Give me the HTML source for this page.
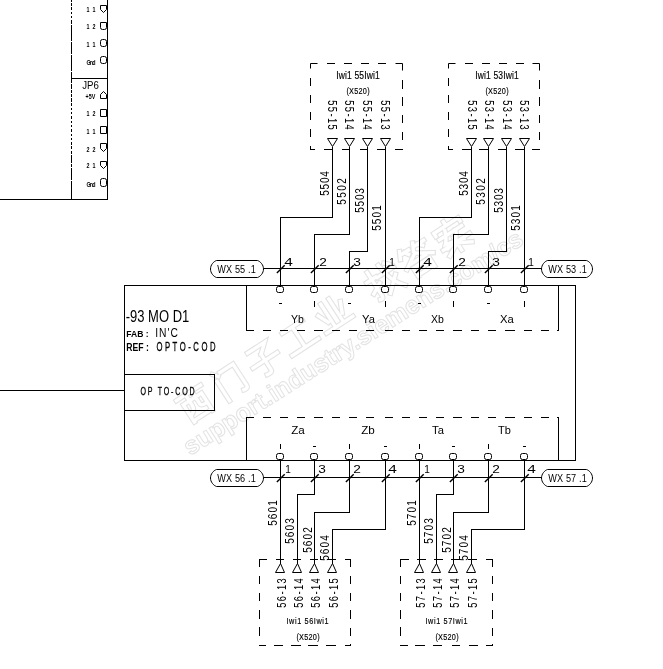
<!DOCTYPE html>
<html><head><meta charset="utf-8"><style>
html,body{margin:0;padding:0;background:#fff;width:663px;height:669px;overflow:hidden}
svg{display:block;will-change:transform}
text{font-family:"Liberation Sans", sans-serif;fill:#000}
</style></head><body>
<svg width="663" height="669" viewBox="0 0 663 669">
<rect width="663" height="669" fill="#fff"/>
<g fill="none" stroke="#e3e3e3" stroke-width="4.6" stroke-linecap="square" stroke-linejoin="miter"><path transform="translate(195,403) rotate(-33) translate(0,0) scale(1.2) translate(-15,-15)" d="M3,5 H27 M6,11 V28 M6,11 H24 V28 M6,27 H24 M12,5 V15 Q12,20 7,22 M18,5 V18 Q18,20 23,20"/><path transform="translate(195,403) rotate(-33) translate(41,0) scale(1.2) translate(-15,-15)" d="M6,3 L9,7 M6,10 V29 M12,5 H25 V26 Q25,29 21,28"/><path transform="translate(195,403) rotate(-33) translate(82,0) scale(1.2) translate(-15,-15)" d="M6,4 H23 L15,11 M15,11 V26 Q15,29 10,28 M3,17 H27"/><path transform="translate(195,403) rotate(-33) translate(123,0) scale(1.2) translate(-15,-15)" d="M5,6 H25 M15,6 V25 M2,26 H28"/><path transform="translate(195,403) rotate(-33) translate(164,0) scale(1.2) translate(-15,-15)" d="M11,3 V25 M19,3 V25 M4,10 L8,19 M26,10 L22,19 M2,26 H28"/><path transform="translate(195,403) rotate(-33) translate(225,0) scale(1.2) translate(-15,-15)" d="M2,9 H11 M7,2 V25 Q7,28 4,27 M2,20 L11,15 M12,10 H28 M18,2 Q19,18 28,28 M23,3 L26,6 M26,16 L14,27"/><path transform="translate(195,403) rotate(-33) translate(266,0) scale(1.2) translate(-15,-15)" d="M5,2 L2,8 M4,5 H12 M8,5 L10,8 M18,2 L15,8 M17,5 H27 M21,5 L24,8 M15,10 L2,18 M15,10 L28,18 M8,16 H22 M7,20 V28 M7,20 H23 V28 M7,27 H23"/><path transform="translate(195,403) rotate(-33) translate(307,0) scale(1.2) translate(-15,-15)" d="M15,1 V4 M3,8 V5 H27 V8 M4,12 H26 M12,8 Q10,14 6,18 Q16,20 22,22 M20,12 Q18,20 6,22 M2,21 H28 M15,17 V29 M15,22 L4,28 M15,22 L26,28"/></g>
<g fill="none" stroke="#fff" stroke-width="2.8" stroke-linecap="square" stroke-linejoin="miter"><path transform="translate(195,403) rotate(-33) translate(0,0) scale(1.2) translate(-15,-15)" d="M3,5 H27 M6,11 V28 M6,11 H24 V28 M6,27 H24 M12,5 V15 Q12,20 7,22 M18,5 V18 Q18,20 23,20"/><path transform="translate(195,403) rotate(-33) translate(41,0) scale(1.2) translate(-15,-15)" d="M6,3 L9,7 M6,10 V29 M12,5 H25 V26 Q25,29 21,28"/><path transform="translate(195,403) rotate(-33) translate(82,0) scale(1.2) translate(-15,-15)" d="M6,4 H23 L15,11 M15,11 V26 Q15,29 10,28 M3,17 H27"/><path transform="translate(195,403) rotate(-33) translate(123,0) scale(1.2) translate(-15,-15)" d="M5,6 H25 M15,6 V25 M2,26 H28"/><path transform="translate(195,403) rotate(-33) translate(164,0) scale(1.2) translate(-15,-15)" d="M11,3 V25 M19,3 V25 M4,10 L8,19 M26,10 L22,19 M2,26 H28"/><path transform="translate(195,403) rotate(-33) translate(225,0) scale(1.2) translate(-15,-15)" d="M2,9 H11 M7,2 V25 Q7,28 4,27 M2,20 L11,15 M12,10 H28 M18,2 Q19,18 28,28 M23,3 L26,6 M26,16 L14,27"/><path transform="translate(195,403) rotate(-33) translate(266,0) scale(1.2) translate(-15,-15)" d="M5,2 L2,8 M4,5 H12 M8,5 L10,8 M18,2 L15,8 M17,5 H27 M21,5 L24,8 M15,10 L2,18 M15,10 L28,18 M8,16 H22 M7,20 V28 M7,20 H23 V28 M7,27 H23"/><path transform="translate(195,403) rotate(-33) translate(307,0) scale(1.2) translate(-15,-15)" d="M15,1 V4 M3,8 V5 H27 V8 M4,12 H26 M12,8 Q10,14 6,18 Q16,20 22,22 M20,12 Q18,20 6,22 M2,21 H28 M15,17 V29 M15,22 L4,28 M15,22 L26,28"/></g>
<text transform="translate(190,456) rotate(-32.4)" x="0" y="0" font-size="25" font-weight="bold" fill="none" stroke="#e3e3e3" stroke-width="1" style="fill:none">support.industry.siemens.com/cs</text>
<rect x="107" y="0" width="1" height="200"/>
<rect x="71" y="78" width="37" height="1"/>
<rect x="0" y="199" width="108" height="1"/>
<rect x="71" y="0" width="1" height="2"/>
<rect x="71" y="3" width="1" height="3"/>
<rect x="71" y="7" width="1" height="3"/>
<rect x="71" y="12" width="1" height="2"/>
<rect x="71" y="16" width="1" height="2"/>
<rect x="71" y="20" width="1" height="4"/>
<rect x="71" y="25" width="1" height="13"/>
<rect x="71" y="38" width="1" height="3"/>
<rect x="71" y="42" width="1" height="12"/>
<rect x="71" y="55" width="1" height="12"/>
<rect x="71" y="67" width="1" height="4"/>
<rect x="71" y="72" width="1" height="8"/>
<rect x="71" y="80" width="1" height="3"/>
<rect x="71" y="84" width="1" height="5"/>
<rect x="71" y="90" width="1" height="3"/>
<rect x="71" y="94" width="1" height="3"/>
<rect x="71" y="98" width="1" height="4"/>
<rect x="71" y="103" width="1" height="3"/>
<rect x="71" y="108" width="1" height="2"/>
<rect x="71" y="112" width="1" height="2"/>
<rect x="71" y="116" width="1" height="3"/>
<rect x="71" y="121" width="1" height="2"/>
<rect x="71" y="125" width="1" height="2"/>
<rect x="71" y="129" width="1" height="3"/>
<rect x="71" y="134" width="1" height="2"/>
<rect x="71" y="138" width="1" height="2"/>
<rect x="71" y="142" width="1" height="3"/>
<rect x="71" y="146" width="1" height="3"/>
<rect x="71" y="151" width="1" height="3"/>
<rect x="71" y="155" width="1" height="8"/>
<rect x="71" y="164" width="1" height="3"/>
<rect x="71" y="168" width="1" height="12"/>
<rect x="71" y="181" width="1" height="13"/>
<rect x="71" y="194" width="1" height="6"/>
<text x="82.2" y="89" font-size="10" font-weight="normal" textLength="16.6" lengthAdjust="spacingAndGlyphs" >JP6</text>
<path d="M100.5,5.5 H106.5 V9.5 L103.5,12.5 L100.5,9.5 Z" fill="none" stroke="#000"/>
<text transform="translate(86.57,12) scale(0.75,1)" x="0" y="0" font-size="7.14" font-weight="bold" textLength="11.81" lengthAdjust="spacing" >1 1</text>
<path d="M100.5,22.5 H106.5 V27.5 Q106.5,29.5 104.5,29.5 H102.5 Q100.5,29.5 100.5,27.5 Z" fill="none" stroke="#000"/>
<text transform="translate(86.57,29) scale(0.75,1)" x="0" y="0" font-size="7.14" font-weight="bold" textLength="11.81" lengthAdjust="spacing" >1 2</text>
<path d="M102.5,39.5 H104.5 Q106.5,39.5 106.5,41.5 V44.5 Q106.5,46.5 104.5,46.5 H102.5 Q100.5,46.5 100.5,44.5 V41.5 Q100.5,39.5 102.5,39.5 Z" fill="none" stroke="#000"/>
<text transform="translate(86.57,47) scale(0.75,1)" x="0" y="0" font-size="7.14" font-weight="bold" textLength="11.81" lengthAdjust="spacing" >1 1</text>
<path d="M102.5,56.5 H104.5 Q106.5,56.5 106.5,58.5 V61.5 Q106.5,63.5 104.5,63.5 H102.5 Q100.5,63.5 100.5,61.5 V58.5 Q100.5,56.5 102.5,56.5 Z" fill="none" stroke="#000"/>
<text transform="translate(86.57,65) scale(0.75,1)" x="0" y="0" font-size="7.14" font-weight="bold" textLength="11.81" lengthAdjust="spacing" >Gnd</text>
<path d="M100.5,98.5 H106.5 V94.5 L103.5,91.5 L100.5,94.5 Z" fill="none" stroke="#000"/>
<text transform="translate(85.57,99) scale(0.75,1)" x="0" y="0" font-size="7.14" font-weight="bold" textLength="13.14" lengthAdjust="spacing" >+5V</text>
<path d="M100.5,109.5 H106.5 V116.5 H100.5 Z" fill="none" stroke="#000"/>
<text transform="translate(86.57,116) scale(0.75,1)" x="0" y="0" font-size="7.14" font-weight="bold" textLength="11.81" lengthAdjust="spacing" >1 2</text>
<path d="M100.5,126.5 H106.5 V133.5 H100.5 Z" fill="none" stroke="#000"/>
<text transform="translate(86.57,134) scale(0.75,1)" x="0" y="0" font-size="7.14" font-weight="bold" textLength="11.81" lengthAdjust="spacing" >1 1</text>
<path d="M100.5,143.5 H106.5 V148.5 L103.5,151.5 L100.5,148.5 Z" fill="none" stroke="#000"/>
<text transform="translate(86.57,152) scale(0.75,1)" x="0" y="0" font-size="7.14" font-weight="bold" textLength="11.81" lengthAdjust="spacing" >2 2</text>
<path d="M100.5,161.5 H106.5 V165.5 L103.5,168.5 L100.5,165.5 Z" fill="none" stroke="#000"/>
<text transform="translate(86.57,168) scale(0.75,1)" x="0" y="0" font-size="7.14" font-weight="bold" textLength="11.81" lengthAdjust="spacing" >2 1</text>
<path d="M102.5,178.5 H104.5 Q106.5,178.5 106.5,180.5 V184.5 Q106.5,186.5 104.5,186.5 H102.5 Q100.5,186.5 100.5,184.5 V180.5 Q100.5,178.5 102.5,178.5 Z" fill="none" stroke="#000"/>
<text transform="translate(86.57,187) scale(0.75,1)" x="0" y="0" font-size="7.14" font-weight="bold" textLength="11.81" lengthAdjust="spacing" >Gnd</text>
<rect x="0" y="390" width="125" height="1"/>
<rect x="124.5" y="285.5" width="451" height="175" fill="none" stroke="#000"/>
<rect x="124.5" y="374.5" width="90" height="36" fill="none" stroke="#000"/>
<text transform="translate(140.43,395) scale(0.62,1)" x="0" y="0" font-size="11.43" font-weight="normal" textLength="87.31" lengthAdjust="spacing"  stroke="#000" stroke-width="0.3">OP TO-COD</text>
<text x="125.74" y="322" font-size="15.71" font-weight="normal" textLength="63.51" lengthAdjust="spacingAndGlyphs" >-93 MO D1</text>
<text x="126.31" y="337" font-size="8.57" font-weight="bold" textLength="22.37" lengthAdjust="spacingAndGlyphs" >FAB :</text>
<text transform="translate(155.18,337) scale(0.8,1)" x="0" y="0" font-size="12.86" font-weight="normal" textLength="28.31" lengthAdjust="spacing" >IN'C</text>
<text x="126.2" y="351" font-size="10" font-weight="bold" textLength="22.6" lengthAdjust="spacingAndGlyphs" >REF :</text>
<text transform="translate(156.38,351) scale(0.6,1)" x="0" y="0" font-size="12.86" font-weight="normal" textLength="98.72" lengthAdjust="spacing"  stroke="#000" stroke-width="0.3">OPTO-COD</text>
<rect x="246" y="285" width="1" height="46"/>
<rect x="558" y="285" width="1" height="46"/>
<rect x="246" y="330" width="8" height="1"/>
<rect x="263" y="330" width="8" height="1"/>
<rect x="280" y="330" width="8" height="1"/>
<rect x="297" y="330" width="8" height="1"/>
<rect x="314" y="330" width="9" height="1"/>
<rect x="332" y="330" width="8" height="1"/>
<rect x="349" y="330" width="8" height="1"/>
<rect x="366" y="330" width="8" height="1"/>
<rect x="385" y="330" width="8" height="1"/>
<rect x="402" y="330" width="8" height="1"/>
<rect x="419" y="330" width="8" height="1"/>
<rect x="436" y="330" width="8" height="1"/>
<rect x="453" y="330" width="9" height="1"/>
<rect x="471" y="330" width="8" height="1"/>
<rect x="488" y="330" width="8" height="1"/>
<rect x="505" y="330" width="10" height="1"/>
<rect x="524" y="330" width="8" height="1"/>
<rect x="541" y="330" width="8" height="1"/>
<rect x="557" y="330" width="2" height="1"/>
<rect x="246" y="417" width="1" height="44"/>
<rect x="558" y="417" width="1" height="44"/>
<rect x="246" y="417" width="8" height="1"/>
<rect x="263" y="417" width="8" height="1"/>
<rect x="280" y="417" width="8" height="1"/>
<rect x="297" y="417" width="8" height="1"/>
<rect x="314" y="417" width="9" height="1"/>
<rect x="332" y="417" width="8" height="1"/>
<rect x="349" y="417" width="8" height="1"/>
<rect x="366" y="417" width="8" height="1"/>
<rect x="385" y="417" width="8" height="1"/>
<rect x="402" y="417" width="8" height="1"/>
<rect x="419" y="417" width="8" height="1"/>
<rect x="436" y="417" width="8" height="1"/>
<rect x="453" y="417" width="9" height="1"/>
<rect x="471" y="417" width="8" height="1"/>
<rect x="488" y="417" width="8" height="1"/>
<rect x="505" y="417" width="10" height="1"/>
<rect x="524" y="417" width="8" height="1"/>
<rect x="541" y="417" width="8" height="1"/>
<rect x="557" y="417" width="2" height="1"/>
<rect x="276.5" y="286.5" width="7" height="6" rx="2" fill="none" stroke="#000"/>
<rect x="279" y="303" width="3" height="1"/>
<rect x="310.5" y="286.5" width="7" height="6" rx="2" fill="none" stroke="#000"/>
<rect x="314" y="301" width="1" height="6"/>
<rect x="345.5" y="286.5" width="7" height="6" rx="2" fill="none" stroke="#000"/>
<rect x="348" y="303" width="3" height="1"/>
<rect x="381.5" y="286.5" width="7" height="6" rx="2" fill="none" stroke="#000"/>
<rect x="385" y="301" width="1" height="6"/>
<rect x="415.5" y="286.5" width="7" height="6" rx="2" fill="none" stroke="#000"/>
<rect x="418" y="303" width="3" height="1"/>
<rect x="449.5" y="286.5" width="7" height="6" rx="2" fill="none" stroke="#000"/>
<rect x="453" y="301" width="1" height="6"/>
<rect x="484.5" y="286.5" width="7" height="6" rx="2" fill="none" stroke="#000"/>
<rect x="487" y="303" width="3" height="1"/>
<rect x="520.5" y="286.5" width="7" height="6" rx="2" fill="none" stroke="#000"/>
<rect x="524" y="301" width="1" height="6"/>
<text x="291.09" y="323" font-size="11.43" font-weight="normal" textLength="12.83" lengthAdjust="spacingAndGlyphs" >Yb</text>
<text x="362.09" y="323" font-size="11.43" font-weight="normal" textLength="12.83" lengthAdjust="spacingAndGlyphs" >Ya</text>
<text x="431.09" y="323" font-size="11.43" font-weight="normal" textLength="12.83" lengthAdjust="spacingAndGlyphs" >Xb</text>
<text x="500.09" y="323" font-size="11.43" font-weight="normal" textLength="13.83" lengthAdjust="spacingAndGlyphs" >Xa</text>
<rect x="276.5" y="453.5" width="7" height="6" rx="2" fill="none" stroke="#000"/>
<rect x="280" y="444" width="1" height="5"/>
<rect x="310.5" y="453.5" width="7" height="6" rx="2" fill="none" stroke="#000"/>
<rect x="313" y="446" width="3" height="1"/>
<rect x="345.5" y="453.5" width="7" height="6" rx="2" fill="none" stroke="#000"/>
<rect x="349" y="444" width="1" height="5"/>
<rect x="381.5" y="453.5" width="7" height="6" rx="2" fill="none" stroke="#000"/>
<rect x="384" y="446" width="3" height="1"/>
<rect x="415.5" y="453.5" width="7" height="6" rx="2" fill="none" stroke="#000"/>
<rect x="419" y="444" width="1" height="5"/>
<rect x="449.5" y="453.5" width="7" height="6" rx="2" fill="none" stroke="#000"/>
<rect x="452" y="446" width="3" height="1"/>
<rect x="484.5" y="453.5" width="7" height="6" rx="2" fill="none" stroke="#000"/>
<rect x="488" y="444" width="1" height="5"/>
<rect x="520.5" y="453.5" width="7" height="6" rx="2" fill="none" stroke="#000"/>
<rect x="523" y="446" width="3" height="1"/>
<text x="291.2" y="434" font-size="10" font-weight="normal" textLength="13.6" lengthAdjust="spacingAndGlyphs" >Za</text>
<text x="361.2" y="434" font-size="10" font-weight="normal" textLength="13.6" lengthAdjust="spacingAndGlyphs" >Zb</text>
<text x="432.09" y="434" font-size="11.43" font-weight="normal" textLength="11.83" lengthAdjust="spacingAndGlyphs" >Ta</text>
<text x="498.09" y="434" font-size="11.43" font-weight="normal" textLength="12.83" lengthAdjust="spacingAndGlyphs" >Tb</text>
<rect x="264" y="268" width="278" height="1"/>
<path d="M216.5,260.5 H257.5 C260.5,261.5 263.5,265 263.5,269.0 C263.5,273 260.5,276.5 257.5,277.5 H216.5 C213.5,276.5 210.5,273 210.5,269.0 C210.5,265 213.5,261.5 216.5,260.5 Z" fill="#fff" stroke="#000"/>
<text transform="translate(217.27,273) scale(0.8,1)" x="0" y="0" font-size="11.43" font-weight="normal" textLength="48.08" lengthAdjust="spacing" >WX 55 .1</text>
<path d="M547.5,260.5 H586.5 C589.5,261.5 592.5,265 592.5,269.0 C592.5,273 589.5,276.5 586.5,277.5 H547.5 C544.5,276.5 541.5,273 541.5,269.0 C541.5,265 544.5,261.5 547.5,260.5 Z" fill="#fff" stroke="#000"/>
<text transform="translate(548.27,273) scale(0.8,1)" x="0" y="0" font-size="11.43" font-weight="normal" textLength="48.08" lengthAdjust="spacing" >WX 53 .1</text>
<rect x="264" y="477" width="278" height="1"/>
<path d="M216.5,469.5 H257.5 C260.5,470.5 263.5,474 263.5,478.0 C263.5,482 260.5,485.5 257.5,486.5 H216.5 C213.5,485.5 210.5,482 210.5,478.0 C210.5,474 213.5,470.5 216.5,469.5 Z" fill="#fff" stroke="#000"/>
<text transform="translate(217.27,482) scale(0.8,1)" x="0" y="0" font-size="11.43" font-weight="normal" textLength="48.08" lengthAdjust="spacing" >WX 56 .1</text>
<path d="M547.5,469.5 H586.5 C589.5,470.5 592.5,474 592.5,478.0 C592.5,482 589.5,485.5 586.5,486.5 H547.5 C544.5,485.5 541.5,482 541.5,478.0 C541.5,474 544.5,470.5 547.5,469.5 Z" fill="#fff" stroke="#000"/>
<text transform="translate(548.27,482) scale(0.8,1)" x="0" y="0" font-size="11.43" font-weight="normal" textLength="48.08" lengthAdjust="spacing" >WX 57 .1</text>
<path d="M310.5,68.5 V63.5 H317.5" fill="none" stroke="#000"/>
<rect x="327" y="63" width="8" height="1"/>
<rect x="344" y="63" width="8" height="1"/>
<rect x="361" y="63" width="8" height="1"/>
<rect x="378" y="63" width="8" height="1"/>
<path d="M395.5,63.5 H402.5 V70.5" fill="none" stroke="#000"/>
<rect x="310" y="78" width="1" height="8"/>
<rect x="310" y="95" width="1" height="8"/>
<rect x="310" y="112" width="1" height="8"/>
<rect x="310" y="129" width="1" height="8"/>
<rect x="310" y="146" width="1" height="4"/>
<rect x="402" y="80" width="1" height="9"/>
<rect x="402" y="97" width="1" height="9"/>
<rect x="402" y="115" width="1" height="8"/>
<rect x="402" y="132" width="1" height="8"/>
<rect x="310" y="149" width="5" height="1"/>
<rect x="324" y="149" width="9" height="1"/>
<rect x="342" y="149" width="8" height="1"/>
<rect x="360" y="149" width="8" height="1"/>
<rect x="377" y="149" width="9" height="1"/>
<rect x="395" y="149" width="8" height="1"/>
<text transform="translate(336.32,79) scale(0.85,1)" x="0" y="0" font-size="10" font-weight="normal" textLength="51.01" lengthAdjust="spacing"  stroke="#000" stroke-width="0.15">Iwi1 55Iwi1</text>
<text transform="translate(346.42,94) scale(0.85,1)" x="0" y="0" font-size="8.57" font-weight="normal" textLength="27.25" lengthAdjust="spacing"  stroke="#000" stroke-width="0.15">(X520)</text>
<path d="M327.5,138.5 H337.5 L332.5,146.5 Z" fill="none" stroke="#000"/>
<text transform="translate(328,101) rotate(90) translate(-0.74,0) scale(0.72,1)" x="0" y="0" font-size="12.86" font-weight="normal" textLength="40.95" lengthAdjust="spacing">55-15</text>
<rect x="332" y="147" width="1" height="71"/>
<rect x="280" y="217" width="53" height="1"/>
<rect x="280" y="217" width="1" height="52"/>
<path d="M344.5,138.5 H354.5 L349.5,146.5 Z" fill="none" stroke="#000"/>
<text transform="translate(345,101) rotate(90) translate(-0.74,0) scale(0.72,1)" x="0" y="0" font-size="12.86" font-weight="normal" textLength="40.95" lengthAdjust="spacing">55-14</text>
<rect x="349" y="147" width="1" height="88"/>
<rect x="314" y="234" width="36" height="1"/>
<rect x="314" y="234" width="1" height="35"/>
<path d="M362.5,138.5 H372.5 L367.5,146.5 Z" fill="none" stroke="#000"/>
<text transform="translate(363,101) rotate(90) translate(-0.74,0) scale(0.72,1)" x="0" y="0" font-size="12.86" font-weight="normal" textLength="40.95" lengthAdjust="spacing">55-14</text>
<rect x="367" y="147" width="1" height="105"/>
<rect x="349" y="251" width="19" height="1"/>
<rect x="349" y="251" width="1" height="18"/>
<path d="M380.5,138.5 H390.5 L385.5,146.5 Z" fill="none" stroke="#000"/>
<text transform="translate(381,101) rotate(90) translate(-0.74,0) scale(0.72,1)" x="0" y="0" font-size="12.86" font-weight="normal" textLength="40.95" lengthAdjust="spacing">55-13</text>
<rect x="385" y="147" width="1" height="122"/>
<rect x="280" y="268" width="1" height="18"/>
<line x1="276.9" y1="273.1" x2="284.7" y2="265.3" stroke="#000" stroke-width="1.4"/>
<text x="284.2" y="266" font-size="10" font-weight="normal" textLength="8.6" lengthAdjust="spacingAndGlyphs" >4</text>
<rect x="314" y="268" width="1" height="18"/>
<line x1="310.9" y1="273.1" x2="318.7" y2="265.3" stroke="#000" stroke-width="1.4"/>
<text x="319.2" y="266" font-size="10" font-weight="normal" textLength="7.6" lengthAdjust="spacingAndGlyphs" >2</text>
<rect x="349" y="268" width="1" height="18"/>
<line x1="345.9" y1="273.1" x2="353.7" y2="265.3" stroke="#000" stroke-width="1.4"/>
<text x="353.2" y="266" font-size="10" font-weight="normal" textLength="7.6" lengthAdjust="spacingAndGlyphs" >3</text>
<rect x="385" y="268" width="1" height="18"/>
<line x1="381.9" y1="273.1" x2="389.7" y2="265.3" stroke="#000" stroke-width="1.4"/>
<text x="389.2" y="266" font-size="10" font-weight="normal" textLength="5.6" lengthAdjust="spacingAndGlyphs" >1</text>
<text transform="translate(329,195) rotate(-90) translate(-0.8,0) scale(0.78,1)" x="0" y="0" font-size="12.86" font-weight="normal" textLength="31.54" lengthAdjust="spacing">5504</text>
<text transform="translate(346,204) rotate(-90) translate(-0.8,0) scale(0.78,1)" x="0" y="0" font-size="12.86" font-weight="normal" textLength="34.11" lengthAdjust="spacing">5502</text>
<text transform="translate(364,212) rotate(-90) translate(-0.8,0) scale(0.78,1)" x="0" y="0" font-size="12.86" font-weight="normal" textLength="31.54" lengthAdjust="spacing">5503</text>
<text transform="translate(381,230) rotate(-90) translate(-0.8,0) scale(0.78,1)" x="0" y="0" font-size="12.86" font-weight="normal" textLength="32.83" lengthAdjust="spacing">5501</text>
<path d="M448.5,68.5 V63.5 H455.5" fill="none" stroke="#000"/>
<rect x="465" y="63" width="8" height="1"/>
<rect x="482" y="63" width="8" height="1"/>
<rect x="499" y="63" width="8" height="1"/>
<rect x="516" y="63" width="8" height="1"/>
<path d="M532.5,63.5 H539.5 V70.5" fill="none" stroke="#000"/>
<rect x="448" y="78" width="1" height="8"/>
<rect x="448" y="95" width="1" height="8"/>
<rect x="448" y="112" width="1" height="8"/>
<rect x="448" y="129" width="1" height="8"/>
<rect x="448" y="146" width="1" height="4"/>
<rect x="539" y="80" width="1" height="9"/>
<rect x="539" y="97" width="1" height="9"/>
<rect x="539" y="115" width="1" height="8"/>
<rect x="539" y="132" width="1" height="8"/>
<rect x="448" y="149" width="5" height="1"/>
<rect x="462" y="149" width="9" height="1"/>
<rect x="479" y="149" width="9" height="1"/>
<rect x="498" y="149" width="9" height="1"/>
<rect x="515" y="149" width="9" height="1"/>
<rect x="532" y="149" width="8" height="1"/>
<text transform="translate(475.32,79) scale(0.85,1)" x="0" y="0" font-size="10" font-weight="normal" textLength="51.01" lengthAdjust="spacing"  stroke="#000" stroke-width="0.15">Iwi1 53Iwi1</text>
<text transform="translate(485.42,94) scale(0.85,1)" x="0" y="0" font-size="8.57" font-weight="normal" textLength="27.25" lengthAdjust="spacing"  stroke="#000" stroke-width="0.15">(X520)</text>
<path d="M466.5,138.5 H476.5 L471.5,146.5 Z" fill="none" stroke="#000"/>
<text transform="translate(468,101) rotate(90) translate(-0.74,0) scale(0.72,1)" x="0" y="0" font-size="12.86" font-weight="normal" textLength="40.95" lengthAdjust="spacing">53-15</text>
<rect x="471" y="147" width="1" height="71"/>
<rect x="419" y="217" width="53" height="1"/>
<rect x="419" y="217" width="1" height="52"/>
<path d="M483.5,138.5 H493.5 L488.5,146.5 Z" fill="none" stroke="#000"/>
<text transform="translate(485,101) rotate(90) translate(-0.74,0) scale(0.72,1)" x="0" y="0" font-size="12.86" font-weight="normal" textLength="40.95" lengthAdjust="spacing">53-14</text>
<rect x="488" y="147" width="1" height="88"/>
<rect x="453" y="234" width="36" height="1"/>
<rect x="453" y="234" width="1" height="35"/>
<path d="M501.5,138.5 H511.5 L506.5,146.5 Z" fill="none" stroke="#000"/>
<text transform="translate(503,101) rotate(90) translate(-0.74,0) scale(0.72,1)" x="0" y="0" font-size="12.86" font-weight="normal" textLength="40.95" lengthAdjust="spacing">53-14</text>
<rect x="506" y="147" width="1" height="105"/>
<rect x="488" y="251" width="19" height="1"/>
<rect x="488" y="251" width="1" height="18"/>
<path d="M519.5,138.5 H529.5 L524.5,146.5 Z" fill="none" stroke="#000"/>
<text transform="translate(520,101) rotate(90) translate(-0.74,0) scale(0.72,1)" x="0" y="0" font-size="12.86" font-weight="normal" textLength="40.95" lengthAdjust="spacing">53-13</text>
<rect x="524" y="147" width="1" height="122"/>
<rect x="419" y="268" width="1" height="18"/>
<line x1="415.9" y1="273.1" x2="423.7" y2="265.3" stroke="#000" stroke-width="1.4"/>
<text x="423.2" y="266" font-size="10" font-weight="normal" textLength="8.6" lengthAdjust="spacingAndGlyphs" >4</text>
<rect x="453" y="268" width="1" height="18"/>
<line x1="449.9" y1="273.1" x2="457.7" y2="265.3" stroke="#000" stroke-width="1.4"/>
<text x="458.2" y="266" font-size="10" font-weight="normal" textLength="7.6" lengthAdjust="spacingAndGlyphs" >2</text>
<rect x="488" y="268" width="1" height="18"/>
<line x1="484.9" y1="273.1" x2="492.7" y2="265.3" stroke="#000" stroke-width="1.4"/>
<text x="492.2" y="266" font-size="10" font-weight="normal" textLength="7.6" lengthAdjust="spacingAndGlyphs" >3</text>
<rect x="524" y="268" width="1" height="18"/>
<line x1="520.9" y1="273.1" x2="528.7" y2="265.3" stroke="#000" stroke-width="1.4"/>
<text x="528.2" y="266" font-size="10" font-weight="normal" textLength="5.6" lengthAdjust="spacingAndGlyphs" >1</text>
<text transform="translate(468,195) rotate(-90) translate(-0.8,0) scale(0.78,1)" x="0" y="0" font-size="12.86" font-weight="normal" textLength="31.54" lengthAdjust="spacing">5304</text>
<text transform="translate(485,204) rotate(-90) translate(-0.8,0) scale(0.78,1)" x="0" y="0" font-size="12.86" font-weight="normal" textLength="34.11" lengthAdjust="spacing">5302</text>
<text transform="translate(503,212) rotate(-90) translate(-0.8,0) scale(0.78,1)" x="0" y="0" font-size="12.86" font-weight="normal" textLength="31.54" lengthAdjust="spacing">5303</text>
<text transform="translate(520,230) rotate(-90) translate(-0.8,0) scale(0.78,1)" x="0" y="0" font-size="12.86" font-weight="normal" textLength="32.83" lengthAdjust="spacing">5301</text>
<rect x="280" y="460" width="1" height="18"/>
<line x1="276.9" y1="482.1" x2="284.7" y2="474.3" stroke="#000" stroke-width="1.4"/>
<text x="285.2" y="473" font-size="10" font-weight="normal" textLength="5.6" lengthAdjust="spacingAndGlyphs" >1</text>
<rect x="314" y="460" width="1" height="18"/>
<line x1="310.9" y1="482.1" x2="318.7" y2="474.3" stroke="#000" stroke-width="1.4"/>
<text x="318.2" y="473" font-size="10" font-weight="normal" textLength="7.6" lengthAdjust="spacingAndGlyphs" >3</text>
<rect x="349" y="460" width="1" height="18"/>
<line x1="345.9" y1="482.1" x2="353.7" y2="474.3" stroke="#000" stroke-width="1.4"/>
<text x="353.2" y="473" font-size="10" font-weight="normal" textLength="7.6" lengthAdjust="spacingAndGlyphs" >2</text>
<rect x="385" y="460" width="1" height="18"/>
<line x1="381.9" y1="482.1" x2="389.7" y2="474.3" stroke="#000" stroke-width="1.4"/>
<text x="388.2" y="473" font-size="10" font-weight="normal" textLength="8.6" lengthAdjust="spacingAndGlyphs" >4</text>
<rect x="280" y="477" width="1" height="87"/>
<path d="M275.5,572.5 H284.5 L280.5,563.5 Z" fill="none" stroke="#000"/>
<text transform="translate(286,607) rotate(-90) translate(-0.74,0) scale(0.72,1)" x="0" y="0" font-size="12.86" font-weight="normal" textLength="40.95" lengthAdjust="spacing">56-13</text>
<rect x="314" y="477" width="1" height="18"/>
<rect x="297" y="494" width="18" height="1"/>
<rect x="297" y="494" width="1" height="70"/>
<path d="M292.5,572.5 H301.5 L297.5,563.5 Z" fill="none" stroke="#000"/>
<text transform="translate(303,607) rotate(-90) translate(-0.74,0) scale(0.72,1)" x="0" y="0" font-size="12.86" font-weight="normal" textLength="40.95" lengthAdjust="spacing">56-14</text>
<rect x="349" y="477" width="1" height="36"/>
<rect x="314" y="512" width="36" height="1"/>
<rect x="314" y="512" width="1" height="52"/>
<path d="M309.5,572.5 H318.5 L314.5,563.5 Z" fill="none" stroke="#000"/>
<text transform="translate(320,607) rotate(-90) translate(-0.74,0) scale(0.72,1)" x="0" y="0" font-size="12.86" font-weight="normal" textLength="40.95" lengthAdjust="spacing">56-14</text>
<rect x="385" y="477" width="1" height="53"/>
<rect x="332" y="529" width="54" height="1"/>
<rect x="332" y="529" width="1" height="35"/>
<path d="M327.5,572.5 H336.5 L332.5,563.5 Z" fill="none" stroke="#000"/>
<text transform="translate(338,607) rotate(-90) translate(-0.74,0) scale(0.72,1)" x="0" y="0" font-size="12.86" font-weight="normal" textLength="40.95" lengthAdjust="spacing">56-15</text>
<rect x="259" y="559" width="8" height="1"/>
<rect x="276" y="559" width="8" height="1"/>
<rect x="293" y="559" width="8" height="1"/>
<rect x="310" y="559" width="8" height="1"/>
<rect x="327" y="559" width="9" height="1"/>
<rect x="345" y="559" width="6" height="1"/>
<rect x="259" y="645" width="7" height="1"/>
<rect x="274" y="645" width="9" height="1"/>
<rect x="291" y="645" width="10" height="1"/>
<rect x="308" y="645" width="10" height="1"/>
<rect x="326" y="645" width="10" height="1"/>
<rect x="345" y="645" width="6" height="1"/>
<rect x="259" y="559" width="1" height="8"/>
<rect x="259" y="576" width="1" height="8"/>
<rect x="259" y="593" width="1" height="8"/>
<rect x="259" y="610" width="1" height="9"/>
<rect x="259" y="627" width="1" height="9"/>
<rect x="259" y="645" width="1" height="1"/>
<rect x="350" y="559" width="1" height="8"/>
<rect x="350" y="576" width="1" height="8"/>
<rect x="350" y="593" width="1" height="8"/>
<rect x="350" y="610" width="1" height="9"/>
<rect x="350" y="628" width="1" height="8"/>
<rect x="350" y="644" width="1" height="2"/>
<text transform="translate(286.42,624) scale(0.85,1)" x="0" y="0" font-size="8.57" font-weight="normal" textLength="49.61" lengthAdjust="spacing"  stroke="#000" stroke-width="0.15">Iwi1 56Iwi1</text>
<text transform="translate(296.42,640) scale(0.85,1)" x="0" y="0" font-size="8.57" font-weight="normal" textLength="27.25" lengthAdjust="spacing"  stroke="#000" stroke-width="0.15">(X520)</text>
<text transform="translate(277,525) rotate(-90) translate(-0.8,0) scale(0.78,1)" x="0" y="0" font-size="12.86" font-weight="normal" textLength="32.83" lengthAdjust="spacing">5601</text>
<text transform="translate(294,543) rotate(-90) translate(-0.8,0) scale(0.78,1)" x="0" y="0" font-size="12.86" font-weight="normal" textLength="32.83" lengthAdjust="spacing">5603</text>
<text transform="translate(312,552) rotate(-90) translate(-0.8,0) scale(0.78,1)" x="0" y="0" font-size="12.86" font-weight="normal" textLength="32.83" lengthAdjust="spacing">5602</text>
<text transform="translate(329,560) rotate(-90) translate(-0.8,0) scale(0.78,1)" x="0" y="0" font-size="12.86" font-weight="normal" textLength="32.83" lengthAdjust="spacing">5604</text>
<rect x="419" y="460" width="1" height="18"/>
<line x1="415.9" y1="482.1" x2="423.7" y2="474.3" stroke="#000" stroke-width="1.4"/>
<text x="424.2" y="473" font-size="10" font-weight="normal" textLength="5.6" lengthAdjust="spacingAndGlyphs" >1</text>
<rect x="453" y="460" width="1" height="18"/>
<line x1="449.9" y1="482.1" x2="457.7" y2="474.3" stroke="#000" stroke-width="1.4"/>
<text x="457.2" y="473" font-size="10" font-weight="normal" textLength="7.6" lengthAdjust="spacingAndGlyphs" >3</text>
<rect x="488" y="460" width="1" height="18"/>
<line x1="484.9" y1="482.1" x2="492.7" y2="474.3" stroke="#000" stroke-width="1.4"/>
<text x="492.2" y="473" font-size="10" font-weight="normal" textLength="7.6" lengthAdjust="spacingAndGlyphs" >2</text>
<rect x="524" y="460" width="1" height="18"/>
<line x1="520.9" y1="482.1" x2="528.7" y2="474.3" stroke="#000" stroke-width="1.4"/>
<text x="527.2" y="473" font-size="10" font-weight="normal" textLength="8.6" lengthAdjust="spacingAndGlyphs" >4</text>
<rect x="419" y="477" width="1" height="87"/>
<path d="M414.5,572.5 H423.5 L419.5,563.5 Z" fill="none" stroke="#000"/>
<text transform="translate(425,607) rotate(-90) translate(-0.74,0) scale(0.72,1)" x="0" y="0" font-size="12.86" font-weight="normal" textLength="40.95" lengthAdjust="spacing">57-13</text>
<rect x="453" y="477" width="1" height="18"/>
<rect x="436" y="494" width="18" height="1"/>
<rect x="436" y="494" width="1" height="70"/>
<path d="M431.5,572.5 H440.5 L436.5,563.5 Z" fill="none" stroke="#000"/>
<text transform="translate(442,607) rotate(-90) translate(-0.74,0) scale(0.72,1)" x="0" y="0" font-size="12.86" font-weight="normal" textLength="40.95" lengthAdjust="spacing">57-14</text>
<rect x="488" y="477" width="1" height="36"/>
<rect x="453" y="512" width="36" height="1"/>
<rect x="453" y="512" width="1" height="52"/>
<path d="M448.5,572.5 H457.5 L453.5,563.5 Z" fill="none" stroke="#000"/>
<text transform="translate(459,607) rotate(-90) translate(-0.74,0) scale(0.72,1)" x="0" y="0" font-size="12.86" font-weight="normal" textLength="40.95" lengthAdjust="spacing">57-14</text>
<rect x="524" y="477" width="1" height="53"/>
<rect x="471" y="529" width="54" height="1"/>
<rect x="471" y="529" width="1" height="35"/>
<path d="M466.5,572.5 H475.5 L471.5,563.5 Z" fill="none" stroke="#000"/>
<text transform="translate(477,607) rotate(-90) translate(-0.74,0) scale(0.72,1)" x="0" y="0" font-size="12.86" font-weight="normal" textLength="40.95" lengthAdjust="spacing">57-15</text>
<rect x="400" y="559" width="9" height="1"/>
<rect x="417" y="559" width="9" height="1"/>
<rect x="434" y="559" width="9" height="1"/>
<rect x="451" y="559" width="9" height="1"/>
<rect x="468" y="559" width="9" height="1"/>
<rect x="486" y="559" width="7" height="1"/>
<rect x="400" y="645" width="8" height="1"/>
<rect x="415" y="645" width="10" height="1"/>
<rect x="433" y="645" width="9" height="1"/>
<rect x="452" y="645" width="8" height="1"/>
<rect x="469" y="645" width="9" height="1"/>
<rect x="486" y="645" width="7" height="1"/>
<rect x="400" y="559" width="1" height="8"/>
<rect x="400" y="576" width="1" height="8"/>
<rect x="400" y="593" width="1" height="8"/>
<rect x="400" y="610" width="1" height="9"/>
<rect x="400" y="627" width="1" height="9"/>
<rect x="400" y="645" width="1" height="1"/>
<rect x="492" y="559" width="1" height="8"/>
<rect x="492" y="576" width="1" height="8"/>
<rect x="492" y="593" width="1" height="8"/>
<rect x="492" y="610" width="1" height="9"/>
<rect x="492" y="628" width="1" height="8"/>
<rect x="492" y="644" width="1" height="2"/>
<text transform="translate(425.42,624) scale(0.85,1)" x="0" y="0" font-size="8.57" font-weight="normal" textLength="49.61" lengthAdjust="spacing"  stroke="#000" stroke-width="0.15">Iwi1 57Iwi1</text>
<text transform="translate(435.42,640) scale(0.85,1)" x="0" y="0" font-size="8.57" font-weight="normal" textLength="27.25" lengthAdjust="spacing"  stroke="#000" stroke-width="0.15">(X520)</text>
<text transform="translate(416,525) rotate(-90) translate(-0.8,0) scale(0.78,1)" x="0" y="0" font-size="12.86" font-weight="normal" textLength="32.83" lengthAdjust="spacing">5701</text>
<text transform="translate(433,543) rotate(-90) translate(-0.8,0) scale(0.78,1)" x="0" y="0" font-size="12.86" font-weight="normal" textLength="32.83" lengthAdjust="spacing">5703</text>
<text transform="translate(451,552) rotate(-90) translate(-0.8,0) scale(0.78,1)" x="0" y="0" font-size="12.86" font-weight="normal" textLength="32.83" lengthAdjust="spacing">5702</text>
<text transform="translate(468,560) rotate(-90) translate(-0.8,0) scale(0.78,1)" x="0" y="0" font-size="12.86" font-weight="normal" textLength="32.83" lengthAdjust="spacing">5704</text>
</svg></body></html>
